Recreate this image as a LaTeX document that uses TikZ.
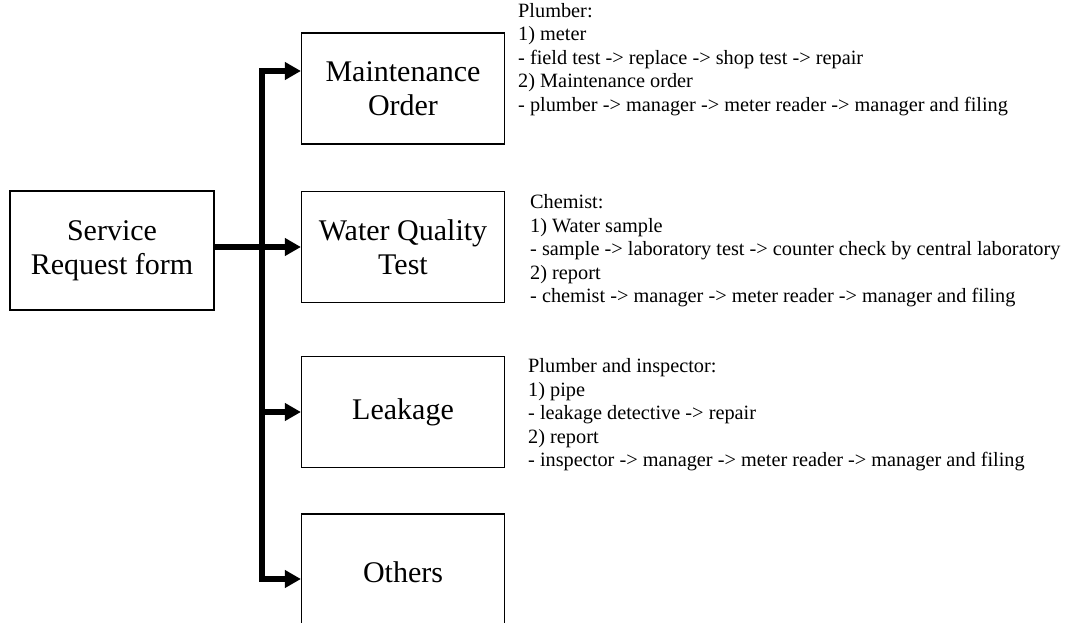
\documentclass[tikz,border=0pt]{standalone}
\usepackage{fontspec}
\setmainfont{Liberation Serif}
\usetikzlibrary{arrows.meta}
\begin{document}
\begin{tikzpicture}[x=1pt, y=-1pt]
    \tikzstyle{box}=[draw, line width=1.2pt, minimum width=203pt, minimum height=111pt, align=center, inner sep=0pt, font=\fontsize{30}{34}\selectfont]
    \tikzstyle{flow}=[line width=6pt, -{Triangle[length=16pt,width=17pt]}]
    \tikzstyle{notes}=[anchor=north west, align=left, inner sep=0pt, font=\fontsize{20.3}{23.5}\selectfont]
    \useasboundingbox (0,0) rectangle (1070,623);
    \node[box, minimum width=204pt, minimum height=119pt] (srf) at (112,250.5) {Service\\Request form};
    \node[box] (mo) at (403,88.5) {Maintenance\\Order};
    \node[box] (wq) at (403,247) {Water Quality\\Test};
    \node[box] (lk) at (403,412) {Leakage};
    \node[box, minimum height=116pt] (ot) at (403,572) {Others};
    % branch points on the trunk
    \coordinate (j) at (262,247);
    \coordinate (mo-in) at ([yshift=17.5pt]mo.west);
    \coordinate (ot-in) at ([yshift=-7pt]ot.west);
    \draw[flow] (j) |- (mo-in);
    \draw[flow] (j) |- (ot-in);
    \draw[flow] (j) |- (lk.west);
    \draw[flow] (srf.east |- wq.west) -- (wq.west);
    % who handles each request
    \node[notes] (n1) at (518,3) {Plumber:\\1) meter\\- field test -> replace -> shop test -> repair\\2) Maintenance order\\- plumber -> manager -> meter reader -> manager and filing};
    \node[notes] (n2) at (530,194.5) {Chemist:\\1) Water sample\\- sample -> laboratory test -> counter check by central laboratory\\2) report\\- chemist -> manager -> meter reader -> manager and filing};
    \node[notes] (n3) at (528,358.5) {Plumber and inspector:\\1) pipe\\- leakage detective -> repair\\2) report\\- inspector -> manager -> meter reader -> manager and filing};
\end{tikzpicture}
\end{document}
